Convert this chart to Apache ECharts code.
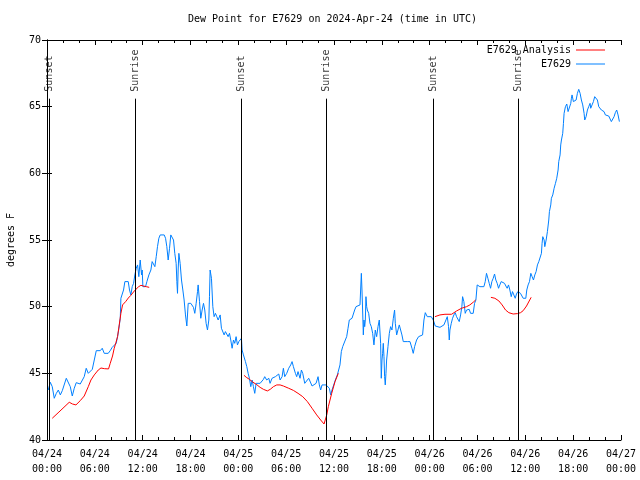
<!DOCTYPE html>
<html><head><meta charset="utf-8">
<script src="https://cdn.jsdelivr.net/npm/echarts@6/dist/echarts.min.js"></script>
<style>html,body{margin:0;padding:0;background:#fff}#c{width:640px;height:480px}</style>
</head><body><div id="c"></div>
<script>
// Hours since 2024-04-24 00:00 UTC
const xTickLabels = ['04/24\n00:00','04/24\n06:00','04/24\n12:00','04/24\n18:00','04/25\n00:00','04/25\n06:00','04/25\n12:00','04/25\n18:00','04/26\n00:00','04/26\n06:00','04/26\n12:00','04/26\n18:00','04/27\n00:00'];
const eventNames = ['Sunset','Sunrise','Sunset','Sunrise','Sunset','Sunrise'];
const eventHours = [0.33, 11.1, 24.38, 35.04, 48.45, 59.1];

const e7629 = [
[0.16,43.75],[0.41,44.33],[0.66,44.0],[0.91,43.13],[1.17,43.5],[1.42,43.75],[1.67,43.38],[1.92,43.7],[2.17,43.75],[2.42,44.63],[2.67,44.75],[2.92,44.0],[3.17,43.3],[3.42,43.88],[3.67,44.3],[3.92,44.2],[4.17,44.2],[4.42,44.2],[4.67,44.75],[4.92,45.38],[5.18,45.0],[5.43,44.95],[5.68,45.3],[5.93,46.0],[6.18,46.7],[6.43,46.8],[6.68,46.7],[6.93,46.88],[7.18,46.5],[7.43,46.63],[7.68,46.5],[7.93,46.7],[8.18,46.95],[8.43,46.88],[8.68,47.25],[8.85,47.75],[9.02,48.38],[9.19,49.13],[9.27,50.63],[9.44,50.75],[9.60,51.25],[9.77,51.88],[9.94,51.88],[10.19,51.88],[10.35,51.25],[10.52,50.88],[10.69,51.5],[10.86,51.75],[11.02,52.38],[11.19,52.88],[11.36,53.13],[11.52,52.25],[11.69,53.5],[11.86,52.38],[11.94,52.75],[12.03,51.5],[12.19,51.63],[12.36,51.5],[12.53,51.88],[12.78,52.38],[13.03,52.75],[13.19,53.38],[13.36,53.25],[13.53,53.0],[13.70,53.75],[13.86,54.5],[14.03,55.13],[14.20,55.38],[14.45,55.3],[14.70,55.38],[14.87,55.13],[15.03,54.5],[15.20,53.5],[15.37,54.38],[15.53,55.38],[15.70,55.45],[15.87,55.0],[16.03,54.0],[16.20,53.25],[16.29,51.88],[16.37,51.0],[16.45,52.75],[16.54,54.0],[16.70,53.25],[16.87,52.0],[17.04,51.25],[17.20,50.5],[17.37,49.38],[17.54,48.55],[17.71,50.25],[17.87,50.38],[18.04,50.25],[18.21,50.13],[18.37,49.95],[18.54,49.5],[18.71,50.25],[18.88,51.13],[18.96,51.63],[19.13,50.38],[19.29,49.13],[19.46,49.75],[19.63,50.25],[19.79,49.75],[19.96,48.75],[20.13,48.25],[20.30,49.0],[20.38,50.75],[20.46,52.75],[20.63,52.13],[20.80,50.0],[20.96,49.25],[21.13,49.5],[21.30,49.25],[21.47,49.0],[21.72,49.38],[21.88,48.38],[22.05,48.5],[22.22,47.88],[22.38,48.13],[22.55,48.25],[22.72,47.75],[22.89,48.0],[23.05,47.5],[23.22,46.88],[23.39,47.5],[23.55,47.25],[23.72,47.75],[23.89,47.13],[24.06,47.38],[24.22,47.5],[24.39,47.63],
[24.47,46.75],[24.64,46.38],[24.89,45.88],[25.06,45.5],[25.23,45.0],[25.39,44.63],[25.56,44.0],[25.73,44.5],[25.89,44.0],[26.06,43.5],[26.23,44.25],[26.48,44.13],[26.73,44.25],[26.98,44.38],[27.15,44.55],[27.31,44.75],[27.56,44.5],[27.82,44.63],[27.98,44.25],[28.23,44.63],[28.40,44.55],[28.65,44.75],[28.82,44.63],[29.07,44.95],[29.24,44.5],[29.49,44.75],[29.65,45.38],[29.82,44.75],[30.07,45.0],[30.32,45.38],[30.57,45.63],[30.74,45.88],[30.91,45.5],[31.16,45.0],[31.32,44.75],[31.49,45.13],[31.74,44.63],[31.91,45.25],[32.08,45.0],[32.33,44.25],[32.58,44.38],[32.83,44.63],[33.0,44.63],[33.25,44.05],[33.50,44.05],[33.75,44.25],[34.0,44.75],[34.16,44.13],[34.33,43.75],[34.50,44.13],[34.75,44.13],[35.0,44.13],[35.25,44.13],[35.42,43.88],[35.58,43.38],[35.75,43.75],[35.92,43.88],[36.17,44.5],[36.42,44.88],[36.59,45.0],[36.75,45.63],[36.92,46.63],[37.09,47.0],[37.26,47.13],[37.42,47.5],[37.59,47.75],[37.76,48.38],[37.92,49.0],[38.09,49.13],[38.26,49.13],[38.43,49.0],[38.59,49.75],[38.76,50.0],[39.01,50.05],[39.26,50.13],[39.34,51.25],[39.43,52.5],[39.51,51.25],[39.59,49.75],[39.68,47.88],[39.76,49.0],[39.85,48.5],[39.93,49.0],[40.01,50.75],[40.10,50.0],[40.18,49.75],[40.35,49.5],[40.51,48.75],[40.68,48.5],[40.85,48.0],[41.01,47.13],[41.18,48.25],[41.35,47.75],[41.52,48.5],[41.68,49.0],[41.85,47.25],[41.93,44.63],[42.02,46.0],[42.10,46.5],[42.18,47.25],[42.27,46.25],[42.35,44.75],[42.43,44.13],[42.52,45.0],[42.60,46.0],[42.77,47.0],[42.94,48.0],[43.10,48.5],[43.27,48.25],[43.44,49.13],[43.60,49.75],[43.69,48.75],[43.86,47.88],[44.02,48.25],[44.19,48.63],[44.36,48.63],[44.52,47.88],[44.69,47.38],[44.94,47.38],[45.19,47.38],[45.53,47.38],[45.78,46.88],[45.94,46.5],[46.11,47.0],[46.36,47.5],[46.61,47.75],[46.86,47.88],[47.11,47.88],[47.28,49.0],[47.45,49.55],[47.70,49.25],[47.95,49.25],[48.20,49.25],[48.37,49.13],
[48.45,49.0],[48.70,48.55],[48.95,48.45],[49.29,48.45],[49.54,48.5],[49.79,48.63],[50.04,49.0],[50.21,49.25],[50.37,48.5],[50.46,47.5],[50.54,48.25],[50.71,48.75],[50.87,49.13],[51.04,49.38],[51.21,49.55],[51.37,49.25],[51.54,49.13],[51.71,48.88],[51.88,49.38],[52.04,50.0],[52.13,50.75],[52.29,50.38],[52.46,49.5],[52.63,49.75],[52.79,49.88],[52.96,49.8],[53.13,49.5],[53.30,49.45],[53.46,49.5],[53.63,50.25],[53.80,50.5],[53.96,51.63],[54.13,51.5],[54.30,51.5],[54.55,51.5],[54.80,51.5],[54.97,51.88],[55.13,52.5],[55.30,52.13],[55.47,51.75],[55.64,51.38],[55.80,51.88],[55.97,52.13],[56.14,52.45],[56.30,52.0],[56.47,51.75],[56.64,51.38],[56.80,51.63],[56.97,51.88],[57.22,51.88],[57.39,51.75],[57.56,51.55],[57.72,51.38],[57.89,51.63],[58.06,51.25],[58.23,50.75],[58.39,51.13],[58.56,50.88],[58.73,50.63],[58.89,50.95],[59.06,51.13],[59.23,51.18],[59.39,51.0],[59.56,50.88],[59.73,50.63],[59.90,50.55],[60.06,50.63],
[60.18,51.25],[60.35,51.63],[60.52,51.88],[60.69,52.5],[60.85,52.25],[61.02,52.0],[61.19,52.38],[61.35,52.63],[61.52,53.13],[61.69,53.38],[61.85,53.5],[62.02,54.0],[62.10,54.75],[62.19,55.25],[62.36,55.0],[62.44,54.5],[62.61,55.0],[62.77,55.63],[62.94,56.5],[63.02,57.13],[63.19,57.63],[63.27,58.13],[63.44,58.38],[63.61,58.88],[63.78,59.25],[63.94,59.63],[64.11,60.25],[64.19,60.88],[64.36,61.38],[64.44,62.13],[64.53,62.5],[64.69,63.0],[64.78,63.75],[64.86,64.5],[65.03,65.0],[65.20,65.2],[65.28,65.3],[65.36,64.63],[65.53,64.75],[65.70,65.25],[65.78,65.63],[65.86,65.88],[66.03,65.38],[66.20,65.38],[66.37,65.5],[66.53,66.0],[66.70,66.3],[66.87,66.0],[67.03,65.5],[67.20,65.13],[67.37,64.5],[67.45,64.0],[67.62,64.25],[67.79,64.75],[67.95,65.0],[68.12,65.25],[68.20,64.88],[68.37,65.13],[68.54,65.38],[68.70,65.75],[68.87,65.8],[69.04,65.5],[69.21,65.0],[69.37,64.88],[69.54,64.75],[69.71,64.75],[69.87,64.63],[70.04,64.38],[70.21,64.3],[70.46,64.3],[70.63,64.2],[70.79,63.88],[70.96,64.0],[71.13,64.25],[71.29,64.55],[71.46,64.75],[71.63,64.38],[71.80,63.88]
];

const analysis = [
[0.66,41.63],[1.5,42.1],[2.79,42.83],[3.2,42.7],[3.63,42.63],[4.17,42.95],[4.67,43.3],[5.18,44.0],[5.51,44.5],[5.93,44.88],[6.43,45.25],[6.77,45.4],[7.2,45.35],[7.72,45.33],[7.93,45.75],[8.22,46.3],[8.43,46.88],[8.64,47.3],[8.85,47.75],[9.06,48.63],[9.27,49.5],[9.48,50.13],[9.89,50.4],[10.2,50.65],[10.52,50.85],[10.85,51.1],[11.15,51.3],[11.5,51.5],[11.78,51.6],[12.1,51.55],[12.45,51.5],[12.82,51.45],
[18,'-'],
[24.72,44.85],[25.0,44.7],[25.39,44.55],[25.8,44.35],[26.31,44.15],[26.73,43.95],[27.15,43.8],[27.64,43.68],[28.0,43.8],[28.4,44.0],[28.82,44.13],[29.24,44.13],[29.65,44.05],[30.32,43.88],[30.91,43.72],[31.49,43.5],[32.08,43.25],[32.66,42.88],[33.25,42.38],[33.83,41.88],[34.33,41.5],[34.75,41.2],[35.09,41.88],[35.29,42.5],[35.71,43.5],[36.13,44.38],[36.54,45.0],
[42,'-'],
[48.66,49.25],[49.29,49.38],[49.92,49.43],[50.75,49.43],[51.38,49.68],[52.0,49.88],[52.63,50.0],[53.04,50.13],[53.46,50.33],[53.76,50.5],
[55,'-'],
[55.68,50.7],[56.18,50.63],[56.68,50.43],[57.09,50.13],[57.52,49.75],[57.93,49.55],[58.47,49.45],[59.02,49.48],[59.40,49.55],[59.73,49.7],[60.15,50.05],[60.73,50.7]
];

const FONT = 'DejaVu Sans Mono';
const eventTop = 65.6;
const chart = echarts.init(document.getElementById('c'), null, {renderer: 'canvas'});
const axisCommon = {
  axisLine: {show: true, lineStyle: {color: '#000', width: 1}},
  splitLine: {show: false}
};
chart.setOption({
  animation: false,
  backgroundColor: '#fff',
  title: {
    text: 'Dew Point for E7629 on 2024-Apr-24 (time in UTC)',
    left: 183, top: 9,
    textStyle: {fontFamily: FONT, fontSize: 10, fontWeight: 'normal', color: '#000'}
  },
  legend: {
    data: [{name: 'E7629 Analysis', icon: 'rect'}, {name: 'E7629', icon: 'rect'}],
    orient: 'vertical', align: 'right',
    right: 30, top: 39,
    itemWidth: 29, itemHeight: 1, itemGap: 2,
    textStyle: {fontFamily: FONT, fontSize: 10, color: '#000', lineHeight: 12}
  },
  grid: {left: 47, right: 19, top: 40, bottom: 40, containLabel: false, outerBoundsMode: 'none'},
  xAxis: [
    Object.assign({}, axisCommon, {
      type: 'value', min: 0, max: 72, interval: 6, position: 'bottom',
      axisTick: {show: true, inside: true, length: 5, lineStyle: {color: '#000'}},
      minorTick: {show: true, splitNumber: 3, length: 3, lineStyle: {color: '#000'}},
      axisLabel: {formatter: v => xTickLabels[Math.round(v / 6)], fontFamily: FONT, fontSize: 10, lineHeight: 15, color: '#000', margin: 7}
    }),
    Object.assign({}, axisCommon, {
      type: 'value', min: 0, max: 72, interval: 6, position: 'top',
      axisTick: {show: true, inside: true, length: 5, lineStyle: {color: '#000'}},
      minorTick: {show: true, splitNumber: 3, length: 3, lineStyle: {color: '#000'}},
      axisLabel: {show: false}
    })
  ],
  yAxis: [
    Object.assign({}, axisCommon, {
      type: 'value', min: 40, max: 70, interval: 5, position: 'left',
      name: 'degrees F', nameLocation: 'middle', nameGap: 31,
      nameTextStyle: {fontFamily: FONT, fontSize: 10, color: '#000'},
      axisTick: {show: true, inside: true, length: 5, lineStyle: {color: '#000'}},
      axisLabel: {fontFamily: FONT, fontSize: 10, color: '#000', margin: 6}
    }),
    Object.assign({}, axisCommon, {
      type: 'value', min: 40, max: 70, interval: 5, position: 'right',
      axisTick: {show: true, inside: true, length: 5, lineStyle: {color: '#000'}},
      axisLabel: {show: false}
    })
  ],
  series: [
    {
      name: 'events', type: 'scatter', symbolSize: 0, silent: true,
      data: eventHours.map(h => [h, eventTop]),
      label: {
        show: true, position: 'top', distance: 7, rotate: 90,
        align: 'left', verticalAlign: 'middle',
        fontFamily: FONT, fontSize: 10, color: '#000',
        formatter: p => eventNames[p.dataIndex]
      },
      markLine: {
        silent: true, symbol: ['none', 'none'],
        lineStyle: {color: '#000', width: 1, type: 'solid'},
        label: {show: false},
        data: eventHours.map(h => [{coord: [h, 40]}, {coord: [h, eventTop]}])
      }
    },
    {
      name: 'E7629', type: 'line', data: e7629, symbol: 'none', showSymbol: false,
      lineStyle: {color: '#0080ff', width: 1}, itemStyle: {color: '#0080ff'}, z: 3
    },
    {
      name: 'E7629 Analysis', type: 'line', data: analysis, symbol: 'none', showSymbol: false,
      connectNulls: false,
      lineStyle: {color: '#ff0000', width: 1}, itemStyle: {color: '#ff0000'}, z: 4
    }
  ]
});
</script>
</body></html>
